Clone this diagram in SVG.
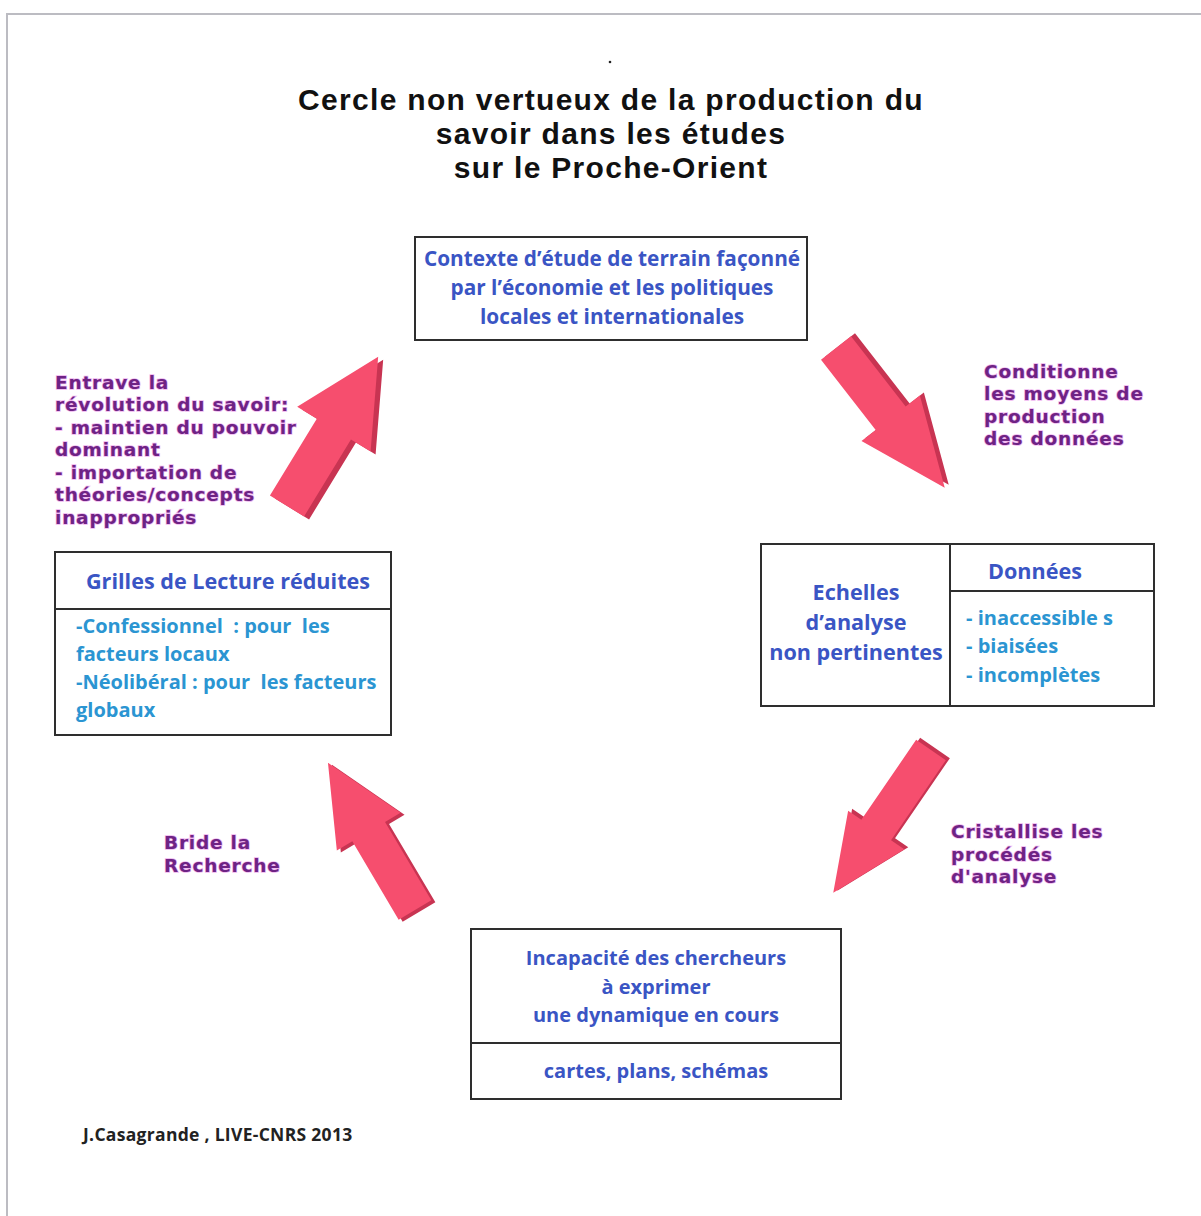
<svg xmlns="http://www.w3.org/2000/svg" width="1201" height="1216" viewBox="0 0 1201 1216">
<style>
.box{fill:#fff;stroke:#2e2e2e;stroke-width:2}
.div{stroke:#2e2e2e;stroke-width:2;fill:none}
.title{font-family:"Liberation Sans",Arial,sans-serif;font-weight:700;font-size:30px;letter-spacing:1.3px;fill:#111;text-anchor:middle}
.bt{font-family:"Open Sans","Noto Sans",sans-serif;font-weight:700;font-size:20.8px;fill:#3a55c4}
.h2{font-size:21.6px}
.b3{font-size:20px}
.it{font-family:"Open Sans","Noto Sans",sans-serif;font-weight:700;font-size:20px;fill:#2b95d2}
.c{text-anchor:middle}
.lab{font-family:"DejaVu Sans",sans-serif;font-weight:700;font-size:18.5px;fill:#6e2384;letter-spacing:0.8px;stroke:#f0b6f0;stroke-width:1.5px;paint-order:stroke}
.foot{font-family:"Open Sans","Noto Sans",sans-serif;font-weight:700;font-size:17.5px;fill:#222;letter-spacing:0.3px}
.arr{fill:#f64e6e}
.arrd{fill:#c83452}
</style>
<rect width="1201" height="1216" fill="#fff"/>
<path d="M7,1216 V14 H1201" fill="none" stroke="#bcbcc2" stroke-width="2"/>
<circle cx="610" cy="62" r="1.3" fill="#222"/>
<g id="title">
<text class="title" x="611" y="110">Cercle non vertueux de la production du</text>
<text class="title" x="611" y="144">savoir dans les études</text>
<text class="title" x="611" y="178">sur le Proche-Orient</text>
</g>
<g id="node-contexte">
<rect class="box" x="415" y="237" width="392" height="103"/>
<text class="bt c" x="612" y="266">Contexte d’étude de terrain façonné</text>
<text class="bt c" x="612" y="295">par l’économie et les politiques</text>
<text class="bt c" x="612" y="324">locales et internationales</text>
</g>
<g id="node-echelles">
<rect class="box" x="761" y="544" width="393" height="162"/>
<path class="div" d="M950,544 V706 M950,591 H1154"/>
<text class="bt h2 c" x="856" y="600">Echelles</text>
<text class="bt h2 c" x="856" y="630">d’analyse</text>
<text class="bt h2 c" x="856" y="660">non pertinentes</text>
<text class="bt h2 c" x="1035" y="579">Données</text>
<text class="it" x="966" y="625">- inaccessible s</text>
<text class="it" x="966" y="653">- biaisées</text>
<text class="it" x="966" y="682">- incomplètes</text>
</g>
<g id="node-grilles">
<rect class="box" x="55" y="552" width="336" height="183"/>
<path class="div" d="M55,609 H391"/>
<text class="bt h2 c" x="228" y="589">Grilles de Lecture réduites</text>
<text class="it" x="76" y="633" xml:space="preserve">-Confessionnel  : pour  les</text>
<text class="it" x="76" y="661">facteurs locaux</text>
<text class="it" x="76" y="689" xml:space="preserve">-Néolibéral : pour  les facteurs</text>
<text class="it" x="76" y="717">globaux</text>
</g>
<g id="node-incapacite">
<rect class="box" x="471" y="929" width="370" height="170"/>
<path class="div" d="M471,1043 H841"/>
<text class="bt b3 c" x="656" y="965">Incapacité des chercheurs</text>
<text class="bt b3 c" x="656" y="994">à exprimer</text>
<text class="bt b3 c" x="656" y="1022">une dynamique en cours</text>
<text class="bt b3 c" x="656" y="1078">cartes, plans, schémas</text>
</g>
<g id="connectors">
<g id="arrow-1">
<polygon class="arrd" transform="translate(292,509) rotate(-58.6)" points="0,-20 90,-20 90,-43 175,0 90,43 90,20 0,20"/>
<polygon class="arr" transform="translate(287,506) rotate(-58.6)" points="0,-20 90,-20 90,-43 175,0 90,43 90,20 0,20"/>
</g>
<g id="arrow-2">
<polygon class="arrd" transform="translate(840,345) rotate(52.1)" points="0,-19 89,-19 89,-37 177,0 89,37 89,19 0,19"/>
<polygon class="arr" transform="translate(836,348) rotate(52.1)" points="0,-19 89,-19 89,-37 177,0 89,37 89,19 0,19"/>
</g>
<g id="arrow-3">
<polygon class="arrd" transform="translate(935,748) rotate(124.4)" points="0,-18 97,-18 97,-34 173,0 97,34 97,18 0,18"/>
<polygon class="arr" transform="translate(931,750) rotate(124.4)" points="0,-18 97,-18 97,-34 173,0 97,34 97,18 0,18"/>
</g>
<g id="arrow-4">
<polygon class="arrd" transform="translate(419,912) rotate(-120.6)" points="0,-19 91,-19 91,-37 171,0 91,37 91,19 0,19"/>
<polygon class="arr" transform="translate(415,910) rotate(-120.6)" points="0,-19 91,-19 91,-37 171,0 91,37 91,19 0,19"/>
</g>
</g>
<g id="label-entrave">
<text class="lab" x="55" y="389">Entrave la</text>
<text class="lab" x="55" y="411">révolution du savoir:</text>
<text class="lab" x="55" y="434">- maintien du pouvoir</text>
<text class="lab" x="55" y="456">dominant</text>
<text class="lab" x="55" y="479">- importation de</text>
<text class="lab" x="55" y="501">théories/concepts</text>
<text class="lab" x="55" y="524">inappropriés</text>
</g>
<g id="label-conditionne">
<text class="lab" x="984" y="378">Conditionne</text>
<text class="lab" x="984" y="400">les moyens de</text>
<text class="lab" x="984" y="423">production</text>
<text class="lab" x="984" y="445">des données</text>
</g>
<g id="label-cristallise">
<text class="lab" x="951" y="838">Cristallise les</text>
<text class="lab" x="951" y="861">procédés</text>
<text class="lab" x="951" y="883">d'analyse</text>
</g>
<g id="label-bride">
<text class="lab" x="164" y="849">Bride la</text>
<text class="lab" x="164" y="872">Recherche</text>
</g>
<text class="foot" x="83" y="1141">J.Casagrande , LIVE-CNRS 2013</text>
</svg>
